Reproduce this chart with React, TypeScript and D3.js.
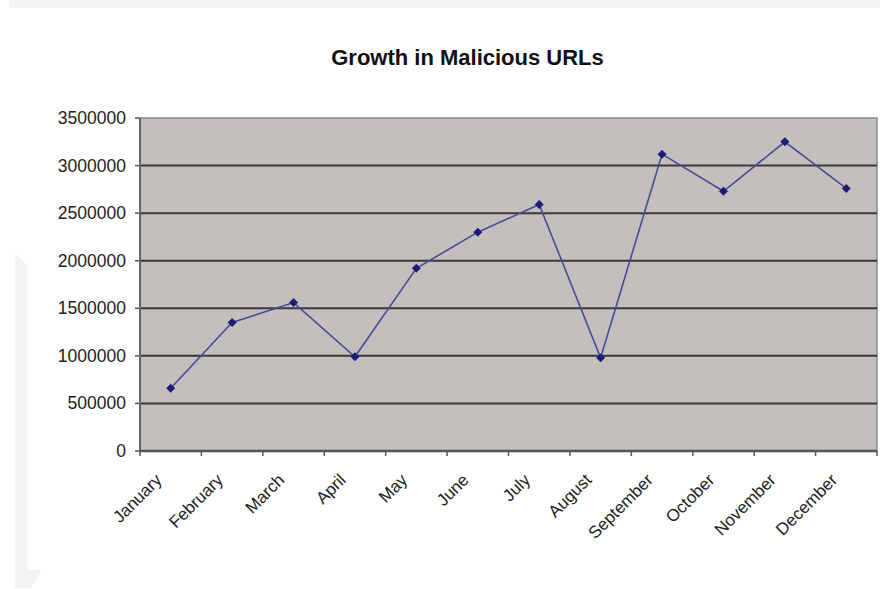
import React from "react";
import * as d3 from "d3";

const title = "Growth in Malicious URLs";
const months = ["January","February","March","April","May","June","July","August","September","October","November","December"];
const urls = [660000,1350000,1560000,990000,1920000,2300000,2590000,980000,3120000,2730000,3250000,2760000];
const yTicks = [0,500000,1000000,1500000,2000000,2500000,3000000,3500000];

const W = 880, H = 589;
const plot = { left: 140, right: 877, top: 118, bottom: 451 };

export default function App() {
  const x = d3.scaleBand<string>().domain(months).range([plot.left, plot.right]);
  const y = d3.scaleLinear().domain([0, 3500000]).range([plot.bottom, plot.top]);
  const cx = (m: string) => (x(m) as number) + x.bandwidth() / 2;
  const line = d3.line<number>().x((_, i) => cx(months[i])).y(v => y(v));
  const font = "'Liberation Sans', Arial, sans-serif";
  const boundaries = months.map(m => x(m) as number).concat([plot.right]);
  const marker = d3.symbol(d3.symbolSquare, 40)() as string;
  return (
    <svg width={W} height={H} style={{ position: "absolute", left: 0, top: 0, background: "#fff" }} fontFamily={font}>
      <rect x={9} y={0} width={W - 9} height={8} fill="#f5f5f5" />
      <polygon points="15,253 27,265 27,570 42,570 30,588 15,588" fill="#f3f3f3" />
      <text x={467.5} y={65} textAnchor="middle" fontSize={22} fontWeight="bold" fill="#111">{title}</text>
      <rect x={plot.left} y={plot.top} width={plot.right - plot.left} height={plot.bottom - plot.top} fill="#c3bfbc" stroke="#8d8d8d" strokeWidth={1.5} />
      {yTicks.filter(t => t > 0 && t < 3500000).map(t => (
        <line key={t} x1={plot.left} x2={plot.right} y1={y(t)} y2={y(t)} stroke="#3a3a3a" strokeWidth={2} />
      ))}
      {yTicks.map(t => (
        <g key={"yt" + t}>
          <line x1={plot.left - 5} x2={plot.left} y1={y(t)} y2={y(t)} stroke="#555" strokeWidth={1.5} />
          <text x={126} y={y(t) + 6} textAnchor="end" fontSize={17.5} fill="#222">{t}</text>
        </g>
      ))}
      <line x1={plot.left} x2={plot.left} y1={plot.top} y2={plot.bottom} stroke="#666" strokeWidth={2} />
      <line x1={plot.left} x2={plot.right} y1={plot.bottom} y2={plot.bottom} stroke="#555" strokeWidth={2.5} />
      {boundaries.map((b, i) => (
        <line key={"xt" + i} x1={b} x2={b} y1={plot.bottom} y2={plot.bottom + 5} stroke="#555" strokeWidth={1.5} />
      ))}
      {months.map(m => (
        <text key={m} transform={`translate(${cx(m) - 8},${plot.bottom + 30}) rotate(-45)`} textAnchor="end" fontSize={17} fill="#222">{m}</text>
      ))}
      <path d={line(urls) as string} fill="none" stroke="#4b4b9a" strokeWidth={1.6} />
      {urls.map((v, i) => (
        <path key={i} d={marker} transform={`translate(${cx(months[i])},${y(v)}) rotate(45)`} fill="#1c1c78" />
      ))}
    </svg>
  );
}
